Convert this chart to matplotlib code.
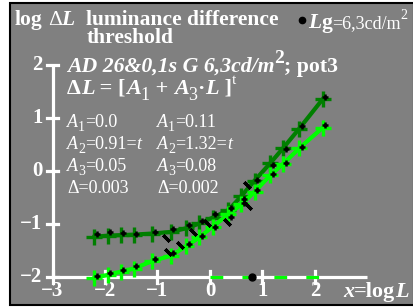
import matplotlib
matplotlib.use("Agg")
import matplotlib.pyplot as plt
from matplotlib.patches import Rectangle

plt.rcParams['font.family'] = ['Liberation Serif', 'DejaVu Serif']

# log L positions of the measured points
log_l = [-2.2, -1.95, -1.7, -1.45, -1.1, -0.75, -0.45, -0.2, 0.05, 0.35, 0.6, 0.85, 1.15, 1.4, 1.7, 2.15]

# fitted curves (log delta L)
dark_fit = [-1.24, -1.22, -1.21, -1.20, -1.18, -1.15, -1.08, -0.99, -0.88, -0.74, -0.47, -0.18, 0.15, 0.44, 0.80, 1.36]
light_fit = [-2.02, -1.96, -1.90, -1.84, -1.70, -1.60, -1.42, -1.25, -1.05, -0.82, -0.63, -0.39, -0.08, 0.14, 0.43, 0.82]

# measured data (black)
dark_data = [-1.18, -1.16, -1.17, -1.18, -1.15, -1.10, -1.02, -0.95, -0.82, -0.70, -0.52, -0.17, 0.12, 0.42, 0.84, 1.40]
light_data = [-1.98, -1.92, -1.86, -1.80, -1.66, -1.55, -1.38, -1.22, -1.05, -0.86, -0.60, -0.36, -0.06, 0.16, 0.46, 0.86]

# extra black dash marks
dash_x = [-0.83, -0.80, -0.57, -0.32, -0.06, 0.32, 0.70, 0.73]
dash_y = [-1.27, -1.52, -1.40, -1.15, -0.99, -0.96, -0.26, -0.66]

x_ticks = [-3, -2, -1, 0, 1, 2]
y_ticks = [-2, -1, 0, 1, 2]
lg = 0.8

W, H = 414, 308
fig = plt.figure(figsize=(W / 100, H / 100), dpi=100)
fig.patch.set_facecolor('white')
fig.patches.append(Rectangle((10 / W, 1 - 305 / H), 404 / W, 302 / H, transform=fig.transFigure,
                             facecolor='#808080', edgecolor='black', lw=1.5, zorder=-5))

ax = fig.add_axes([0, 0, 1, 1])
ax.set_xlim((0 - 210) / 52.5, (W - 210) / 52.5)
ax.set_ylim((171 - H) / 53, 171 / 53)
ax.axis('off')
ax.patch.set_alpha(0)

def lab(t):
    return '\u2212%d' % -t if t < 0 else str(t)

# axes
ax.plot([-3, 3], [-2, -2], color='white', lw=2.3, solid_capstyle='butt', zorder=2)
ax.plot([-3, -3], [-2, 2], color='white', lw=2.3, solid_capstyle='butt', zorder=2)
for t in x_ticks:
    ax.plot([t, t], [-2.11, -1.89], color='white', lw=2.3, zorder=2)
    ax.text(t, -2.26, lab(t), color='white', fontsize=15, fontweight='bold', ha='center', va='center')
for t in y_ticks:
    ax.plot([-3.11, -2.89], [t, t], color='white', lw=2.3, zorder=2)
    ax.text(-3.19, t, lab(t), color='white', fontsize=15, fontweight='bold', ha='right', va='center')

ax.plot([0, 2.4], [-2, -2], color='#00ff00', lw=2.3, dashes=(4, 6), zorder=3)
ax.plot([lg], [-2], 'o', color='black', ms=5, zorder=4)

# curves
ax.plot(log_l, dark_fit, color='#007f00', lw=3, marker='+', ms=11, mew=2.4, zorder=5)
ax.plot(log_l, light_fit, color='#00ff00', lw=3, marker='+', ms=11, mew=2.4, zorder=5)
ax.plot([x + 0.05 for x in log_l], dark_data, '+', color='black', ms=4, mew=1.8, zorder=6)
ax.plot([x + 0.05 for x in log_l], light_data, '+', color='black', ms=4, mew=1.8, zorder=6)
ax.plot(dash_x, dash_y, marker=(2, 2, 45), ls='none', color='black', ms=6.5, mew=2.3, zorder=6)

# Lg marker dot next to the legend text
ax.plot([302 / W], [1 - 20 / H], 'o', color='black', ms=4.5, transform=fig.transFigure, clip_on=False)

renderer = fig.canvas.get_renderer()

def rich(xp, yp, parts, size):
    # draw text pieces one after another, baseline at pixel row yp
    x = xp
    for s, kw in parts:
        kw = dict(kw)
        dy = kw.pop('dy', 0)
        gap = kw.pop('gap', 0)
        fs = kw.pop('fs', size)
        x += gap
        t = fig.text(x / W, 1 - (yp + dy) / H, s, color='white', fontsize=fs, va='baseline', **kw)
        x += t.get_window_extent(renderer).width

B = dict(fontweight='bold')
BI = dict(fontweight='bold', style='italic')
I = dict(style='italic')

rich(15, 25, [('log', B), ('\u0394', dict(gap=5)), ('L', BI)], 15.5)
fig.text(86 / W, 1 - 25 / H, 'luminance difference', color='white', fontsize=15.5, fontweight='bold',
         va='baseline')
fig.text(87 / W, 1 - 43 / H, 'threshold', color='white', fontsize=15.5, fontweight='bold', va='baseline')
rich(308, 28, [('L', BI), ('g', B), ('=6,3cd/m', dict(fs=13)), ('2', dict(fs=10, dy=-9))], 15.5)

rich(67, 72, [('AD 26&0,1s G 6,3cd/m', BI), ('2', dict(fontweight='bold', fs=14, dy=-9)),
              ('; pot3', B)], 15.7)
rich(67, 94, [('\u0394', B), ('L', BI), (' = [', B), ('A', BI), ('1', dict(fs=13, dy=6)),
              (' + ', B), ('A', BI), ('3', dict(fs=13, dy=6)), ('\u00b7', B), ('L', BI),
              (' ]', B), ('t', dict(fs=11, dy=-10))], 16)

left_col = [('1', '=0.0', ''), ('2', '=0.91=', 't'), ('3', '=0.05', '')]
right_col = [('1', '=0.11', ''), ('2', '=1.32=', 't'), ('3', '=0.08', '')]
delta = ['=0.003', '=0.002']
for xp, col, d in [(67, left_col, delta[0]), (157, right_col, delta[1])]:
    for i, (sub, val, tail) in enumerate(col):
        yy = 127 + 22 * i
        rich(xp, yy, [('A', I), (sub, dict(fs=10, dy=4)), (val, {}), (tail, I)], 13)
    rich(xp, 127 + 22 * 3, [('\u0394' + d, {})], 13)

rich(343, 297, [('x', BI), ('=log', B), ('L', BI)], 16)

fig.savefig('out.png', dpi=100, facecolor=fig.get_facecolor())
